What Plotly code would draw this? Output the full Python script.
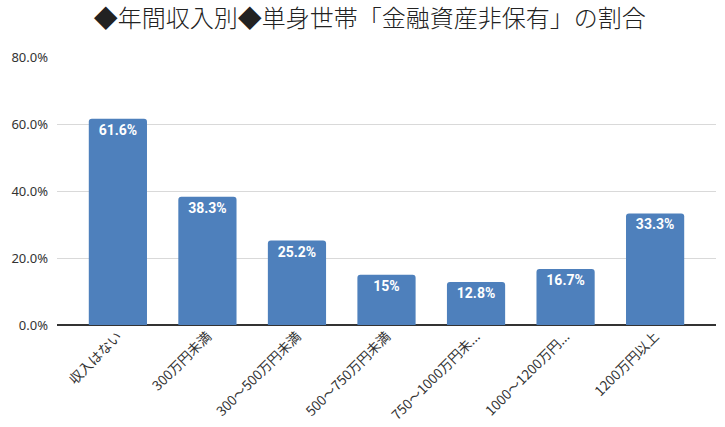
import plotly.graph_objects as go

categories = ["収入はない", "300万円未満", "300～500万円未満", "500～750万円未満",
              "750～1000万円未...", "1000～1200万円...", "1200万円以上"]
values = [61.6, 38.3, 25.2, 15, 12.8, 16.7, 33.3]
labels = [f"{v:g}%" for v in values]
y_ticks = [0, 20, 40, 60, 80]
y_tick_labels = ["0.0%", "20.0%", "40.0%", "60.0%", "80.0%"]
title = "◆年間収入別◆単身世帯「金融資産非保有」の割合"

fig = go.Figure(go.Bar(
    x=list(range(len(categories))),
    y=values,
    text=labels,
    textposition="inside",
    insidetextanchor="end",
    textangle=0,
    constraintext="none",
    textfont=dict(family="Roboto", size=14, color="white", weight="bold"),
    marker=dict(color="#4e80bc", line=dict(width=0)),
    width=0.65,
    cliponaxis=False,
))

fig.update_layout(
    width=725, height=427,
    margin=dict(l=57, r=9, t=57, b=102, autoexpand=False),
    paper_bgcolor="white", plot_bgcolor="white",
    barcornerradius=3,
    title=dict(text=title, x=0.51, xanchor="center", y=0.956, yanchor="middle",
               font=dict(family="Noto Sans CJK JP", size=24, color="#222222", weight=300)),
    showlegend=False,
    xaxis=dict(
        tickmode="array", tickvals=list(range(len(categories))), ticktext=categories,
        range=[-0.68, 6.68], tickangle=-45, showgrid=False, zeroline=False,
        showline=False, ticks="", automargin=False,
        tickfont=dict(family="Noto Sans CJK JP", size=13.5, color="#333333"),
    ),
    yaxis=dict(
        range=[0, 80], tickvals=y_ticks, ticktext=y_tick_labels,
        showgrid=True, gridcolor="#d9d9d9", gridwidth=1,
        zeroline=True, zerolinecolor="#333333", zerolinewidth=1.5,
        showline=False, ticks="", ticklabelstandoff=8, automargin=False,
        tickfont=dict(family="Noto Sans", size=13, color="#333333"),
    ),
)

fig.write_html("out.html", config={"displayModeBar": False},
               post_script="document.body.style.margin='0';document.body.style.overflow='hidden';")
